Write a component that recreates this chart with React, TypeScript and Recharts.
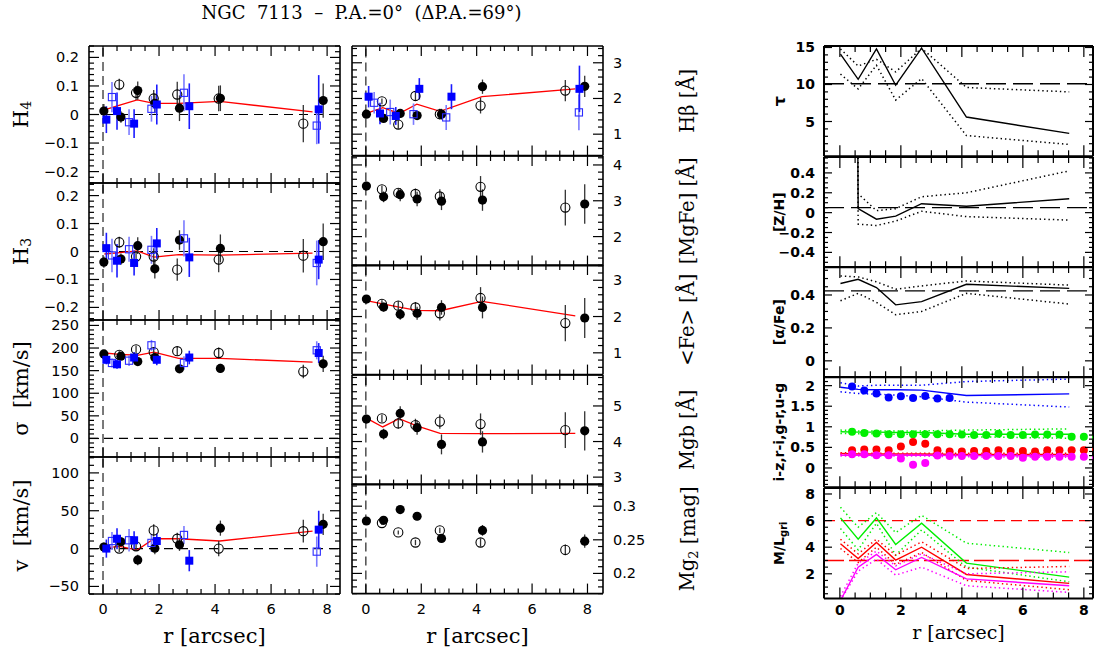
import React from 'react';
import { ComposedChart, XAxis, YAxis, Line, Scatter, ErrorBar, ReferenceLine } from 'recharts';

const SANS = '"DejaVu Sans", Verdana, sans-serif';
const SERIF = '"DejaVu Serif", serif';

// ---------------- shared tick positions ----------------
const X_TICKS = [0, 0.5, 1, 1.5, 2, 2.5, 3, 3.5, 4, 4.5, 5, 5.5, 6, 6.5, 7, 7.5, 8];

// ---------------- LEFT COLUMN: kinematics ----------------
const lFilledX = [0.03, 0.64, 1.24, 1.85, 2.73, 4.19, 7.86];
const lOpenX = [0.58, 1.18, 1.81, 2.65, 4.13, 7.15];
const lBlueFX = [0.12, 0.5, 1.11, 1.92, 3.08, 7.7];
const lBlueOX = [0.32, 0.93, 1.73, 2.89, 7.63];
const lModelX = [0.05, 0.6, 1.22, 1.82, 2.7, 4.17, 7.48];

const h4Filled = [0.012, -0.009, 0.084, 0.039, 0.022, 0.057, 0.049];
const h4FilledErr = [0.025, 0.02, 0.032, 0.035, 0.045, 0.045, 0.06];
const h4Open = [0.105, 0.076, 0.056, 0.07, 0.056, -0.032];
const h4OpenErr = [0.02, 0.025, 0.03, 0.045, 0.045, 0.065];
const h4BlueF = [-0.018, 0.012, -0.032, 0.035, 0.029, 0.018];
const h4BlueFErr = [0.047, 0.065, 0.05, 0.07, 0.08, 0.12];
const h4BlueO = [0.061, -0.027, 0.02, 0.076, -0.039];
const h4BlueOErr = [0.053, 0.045, 0.045, 0.065, 0.065];
const h4Model = [0.016, 0.033, 0.051, 0.039, 0.039, 0.046, 0.009];

const h3Filled = [-0.038, -0.027, 0.021, -0.062, 0.041, 0.011, 0.035];
const h3FilledErr = [0.02, 0.02, 0.03, 0.035, 0.035, 0.05, 0.065];
const h3Open = [0.033, -0.018, -0.018, -0.065, -0.029, -0.015];
const h3OpenErr = [0.02, 0.02, 0.03, 0.04, 0.045, 0.06];
const h3BlueF = [0.012, -0.033, -0.041, 0.029, -0.021, -0.029];
const h3BlueFErr = [0.055, 0.06, 0.045, 0.055, 0.07, 0.07];
const h3BlueO = [-0.014, 0.008, 0.006, 0.047, -0.041];
const h3BlueOErr = [0.06, 0.045, 0.05, 0.065, 0.08];
const h3Model = [-0.009, -0.004, 0.002, -0.02, -0.011, -0.013, -0.006];

const sigFilled = [187, 182, 170, 179, 154, 155, 165];
const sigFilledErr = [8, 8, 8, 10, 8, 10, 18];
const sigOpen = [185, 197, 191, 193, 189, 148];
const sigOpenErr = [8, 8, 10, 10, 12, 15];
const sigBlueF = [174, 164, 179, 174, 179, 189];
const sigBlueFErr = [10, 10, 12, 12, 15, 22];
const sigBlueO = [167, 172, 206, 167, 195];
const sigBlueOErr = [10, 12, 12, 15, 20];
const sigModel = [189, 186, 184, 191, 177, 177, 169];

const velFilled = [2, 9, -15, 0.5, 5, 27, 32];
const velFilledErr = [6, 6, 7, 8, 8, 10, 14];
const velOpen = [0, 3, 24, 13, 0, 23];
const velOpenErr = [5, 6, 8, 8, 10, 15];
const velBlueF = [0, 13, 11, 10, -16, 25];
const velBlueFErr = [12, 14, 12, 10, 14, 25];
const velBlueO = [10, 11, 7.5, 18, -4];
const velBlueOErr = [12, 15, 12, 12, 20];
const velModel = [1, 3, -2, 13, 13, 10, 23];

// ---------------- MIDDLE COLUMN: indices ----------------
const mFilledX = [0.02, 0.64, 1.24, 1.85, 2.73, 4.21, 7.9];
const mOpenX = [0.58, 1.17, 1.79, 2.67, 4.14, 7.2];
const mBlueFX = [0.1, 0.51, 1.08, 1.93, 3.09, 7.71];
const mBlueOX = [0.3, 0.88, 1.72, 2.9, 7.69];
const mModelX = [0.02, 0.61, 1.2, 1.84, 2.68, 4.19, 7.56];

const hbFilled = [1.56, 1.44, 1.58, 1.52, 1.56, 2.33, 2.34];
const hbFilledErr = [0.1, 0.1, 0.12, 0.12, 0.15, 0.2, 0.3];
const hbOpen = [1.92, 1.27, 2.07, 1.56, 1.8, 2.22];
const hbOpenErr = [0.08, 0.12, 0.12, 0.15, 0.22, 0.3];
const hbBlueF = [2.05, 1.58, 1.51, 2.27, 2.05, 2.27];
const hbBlueFErr = [0.3, 0.3, 0.25, 0.3, 0.35, 0.65];
const hbBlueO = [1.88, 1.62, 1.56, 1.47, 1.61];
const hbBlueOErr = [0.3, 0.35, 0.3, 0.35, 0.5];
const hbModel = [1.58, 1.74, 1.58, 1.84, 1.64, 2.05, 2.27];

const mgfeFilled = [3.41, 3.11, 3.17, 3.05, 2.99, 3.02, 2.91];
const mgfeFilledErr = [0.1, 0.15, 0.18, 0.2, 0.25, 0.3, 0.55];
const mgfeOpen = [3.32, 3.22, 3.19, 3.12, 3.39, 2.81];
const mgfeOpenErr = [0.1, 0.12, 0.15, 0.2, 0.3, 0.5];

const feFilled = [2.48, 2.26, 2.06, 2.09, 2.25, 2.25, 1.96];
const feFilledErr = [0.08, 0.12, 0.15, 0.18, 0.2, 0.3, 0.55];
const feOpen = [2.35, 2.3, 2.25, 2.09, 2.51, 1.82];
const feOpenErr = [0.1, 0.12, 0.15, 0.2, 0.3, 0.5];
const feModel = [2.44, 2.35, 2.26, 2.17, 2.16, 2.42, 2.02];

const mgbFilled = [4.63, 4.21, 4.79, 4.39, 3.92, 3.99, 4.3];
const mgbFilledErr = [0.1, 0.15, 0.2, 0.2, 0.28, 0.3, 0.55];
const mgbOpen = [4.65, 4.51, 4.46, 4.56, 4.49, 4.32];
const mgbOpenErr = [0.1, 0.15, 0.18, 0.2, 0.3, 0.5];
const mgbModel = [4.66, 4.41, 4.64, 4.44, 4.23, 4.22, 4.23];

const mg2Filled = [0.278, 0.279, 0.295, 0.285, 0.252, 0.264, 0.248];
const mg2FilledErr = [0.003, 0.004, 0.005, 0.006, 0.006, 0.008, 0.01];
const mg2Open = [0.275, 0.261, 0.246, 0.264, 0.246, 0.235];
const mg2OpenErr = [0.003, 0.003, 0.004, 0.004, 0.006, 0.008];

// ---------------- RIGHT COLUMN: stellar populations ----------------
const rModelX = [0.02, 0.6, 1.2, 1.83, 2.68, 4.15, 7.52];

const tauBest = [14.1, 10.7, 14.8, 9.9, 14.9, 5.6, 3.4];
const tauHigh = [14.8, 12.5, 13.4, 11.7, 14.9, 9.6, 9.0];
const tauLow = [11.4, 9.4, 12.6, 7.9, 10.8, 3.1, 1.9];
const tauRef = 10.1;

const zhBest = [30, 0.04, -0.066, -0.035, 0.09, 0.065, 0.14];
const zhHigh = [30, 0.19, 0.02, 0.04, 0.16, 0.2, 0.42];
const zhLow = [30, -0.115, -0.13, -0.085, 0.014, -0.04, -0.075];
const zhRef = 0.05;

const afeBest = [0.47, 0.495, 0.445, 0.34, 0.36, 0.465, 0.44];
const afeHigh = [0.515, 0.51, 0.48, 0.435, 0.455, 0.485, 0.46];
const afeLow = [0.365, 0.41, 0.355, 0.28, 0.3, 0.41, 0.345];
const afeRef = 0.425;

const colObsX = [0.4, 0.8, 1.2, 1.6, 2.0, 2.4, 2.8, 3.2, 3.6, 4.0, 4.4, 4.8, 5.2, 5.6, 6.0, 6.4, 6.8, 7.2, 7.6, 8.0, 8.4];
const ugObs = [1.98, 1.88, 1.81, 1.71, 1.74, 1.7, 1.75, 1.69, 1.7];
const grObs = [0.88, 0.85, 0.84, 0.82, 0.82, 0.82, 0.82, 0.82, 0.82, 0.81, 0.8, 0.8, 0.83, 0.8, 0.8, 0.81, 0.81, 0.81, 0.76, 0.76, 0.74];
const riObs = [0.43, 0.45, 0.45, 0.43, 0.52, 0.63, 0.59, 0.43, 0.4, 0.4, 0.41, 0.41, 0.43, 0.41, 0.41, 0.4, 0.43, 0.43, 0.43, 0.43, 0.45];
const izObs = [0.33, 0.33, 0.31, 0.31, 0.23, 0.08, 0.12, 0.3, 0.29, 0.29, 0.29, 0.29, 0.29, 0.29, 0.25, 0.27, 0.27, 0.27, 0.27, 0.27, 0.25];
const ugModel = [1.96, 1.91, 1.9, 1.9, 1.89, 1.76, 1.8];
const ugHigh = [2.07, 1.99, 2.01, 2.01, 2.01, 2.1, 2.16];
const ugLow = [1.85, 1.81, 1.79, 1.77, 1.73, 1.6, 1.48];
const grModel = [0.88, 0.87, 0.87, 0.86, 0.86, 0.82, 0.82];
const grHigh = [0.92, 0.9, 0.9, 0.9, 0.9, 0.92, 0.95];
const grLow = [0.84, 0.83, 0.83, 0.82, 0.82, 0.76, 0.72];
const riModel = [0.35, 0.34, 0.34, 0.34, 0.34, 0.33, 0.33];
const riHigh = [0.37, 0.36, 0.36, 0.36, 0.36, 0.36, 0.36];
const riLow = [0.33, 0.32, 0.32, 0.32, 0.32, 0.31, 0.3];
const izModel = [0.31, 0.31, 0.31, 0.31, 0.31, 0.3, 0.29];
const izHigh = [0.33, 0.33, 0.33, 0.33, 0.33, 0.32, 0.32];
const izLow = [0.29, 0.29, 0.29, 0.29, 0.29, 0.27, 0.26];

const mlG = [6.2, 4.6, 6.2, 4.2, 5.8, 2.8, 1.75];
const mlGHigh = [7.0, 5.5, 6.6, 5.1, 6.4, 4.3, 3.6];
const mlGLow = [5.4, 3.8, 5.8, 3.4, 5.3, 2.5, 1.4];
const mlR = [4.26, 3.15, 4.36, 3.03, 4.0, 1.95, 1.28];
const mlRHigh = [4.6, 3.5, 4.6, 3.4, 4.4, 2.4, 2.55];
const mlRLow = [3.9, 2.85, 4.0, 2.7, 3.6, 1.5, 0.8];
const mlI = [0.0, 2.5, 3.46, 2.3, 3.23, 1.62, 1.1];
const mlIHigh = [0.3, 2.8, 3.7, 2.6, 3.5, 2.0, 2.15];
const mlILow = [0.0, 2.2, 3.1, 1.9, 2.5, 1.1, 0.6];
const mlRef1 = 6.0;
const mlRef2 = 3.0;

// ---------------- helpers ----------------
type Pt = { x: number; y: number; e: number };
const zip = (xs: number[], ys: number[], es?: number[]): Pt[] =>
  ys.map((y, i) => ({ x: xs[i], y, e: es ? es[i] : 0 }));

const range = (a: number, b: number, s: number) => {
  const out: number[] = [];
  const n = Math.round((b - a) / s);
  for (let i = 0; i <= n; i++) out.push(+(a + i * s).toFixed(6));
  return out;
};
const isMult = (v: number, step: number) => Math.abs(v / step - Math.round(v / step)) < 1e-6;
const fmtNum = (v: number) => {
  if (Math.abs(v) < 1e-9) return '0';
  const s = String(+v.toFixed(4));
  return s.startsWith('-') ? '\u2212' + s.slice(1) : s;
};

type Side = 'top' | 'bottom' | 'left' | 'right';
const mkTick = (
  side: Side,
  major: number,
  lens: [number, number],
  showLabel: boolean,
  font: React.CSSProperties,
  gap: number,
  sw: number
) => (p: any) => {
  const v = Number(p.payload && p.payload.value);
  const maj = isMult(v, major);
  const L = maj ? lens[0] : lens[1];
  const x = p.x;
  const y = p.y;
  let x2 = x;
  let y2 = y;
  let tx = x;
  let ty = y;
  let anchor: 'start' | 'middle' | 'end' = 'middle';
  if (side === 'bottom') { y2 = y - L; ty = y + gap; }
  if (side === 'top') { y2 = y + L; }
  if (side === 'left') { x2 = x + L; tx = x - gap; anchor = 'end'; }
  if (side === 'right') { x2 = x - L; tx = x + gap; anchor = 'start'; }
  return (
    <g>
      <line x1={x} y1={y} x2={x2} y2={y2} stroke="#000" strokeWidth={sw} />
      {showLabel && maj ? (
        <text x={tx} y={ty} textAnchor={anchor} dominantBaseline="central" style={font} fill="#000">
          {fmtNum(v)}
        </text>
      ) : null}
    </g>
  );
};

const AX = { xAxisId: 'b', yAxisId: 'l' } as const;

const lineEl = (key: string, data: Pt[], color: string, width = 1.3, dash?: string) => (
  <Line key={key} {...AX} data={data} dataKey="y" type="linear" stroke={color} strokeWidth={width}
    strokeDasharray={dash} dot={false} activeDot={false} isAnimationActive={false} />
);
const DOT = '1.4 3';

const dotFilled = (p: any) => <circle cx={p.cx} cy={p.cy} r={4.6} fill="#000" />;
const dotOpen = (p: any) => <circle cx={p.cx} cy={p.cy} r={4.6} fill="none" stroke="#000" strokeWidth={1.1} />;
const sqFilled = (p: any) => <rect x={p.cx - 4} y={p.cy - 4} width={8} height={8} fill="#0000ff" />;
const sqOpen = (p: any) => <rect x={p.cx - 3.6} y={p.cy - 3.6} width={7.2} height={7.2} fill="none" stroke="#2a2aff" strokeWidth={1.1} />;
const colorDot = (c: string) => (p: any) => <circle cx={p.cx} cy={p.cy} r={4} fill={c} />;

const scatEl = (key: string, data: Pt[], shape: any, bar?: string, barW = 1.3) => (
  <Scatter key={key} {...AX} data={data} dataKey="y" shape={shape} isAnimationActive={false}>
    {bar ? <ErrorBar dataKey="e" direction="y" width={0} stroke={bar} strokeWidth={barW} /> : null}
  </Scatter>
);
const hRef = (key: string, y: number, color = '#000', dash = '9 6', w = 1.2) => (
  <ReferenceLine key={key} {...AX} y={y} stroke={color} strokeDasharray={dash} strokeWidth={w} />
);
const vRef = (key: string, x: number) => (
  <ReferenceLine key={key} {...AX} x={x} stroke="#222" strokeDasharray="9 5" strokeWidth={1.2} />
);

// ---------------- panel ----------------
type PanelProps = {
  px: number; py: number; pw: number; ph: number;
  lw: number; rw: number; mt: number; bh: number; mb: number;
  xDomain: [number, number]; yDomain: [number, number];
  yTicks: number[]; yMajor: number;
  xLabels: boolean; yLabelSide: 'left' | 'right';
  bold: boolean;
  xLen: [number, number]; yLen: [number, number];
  frameW: number;
  yTitle: React.ReactNode; yTitleX: number; yTitleStyle: React.CSSProperties;
  xTitle?: string; xTitleY?: number; xTitleSize?: number; xLabelGap?: number;
  children: React.ReactNode;
};

function Panel(P: PanelProps) {
  const W = P.lw + P.pw + P.rw;
  const H = P.mt + P.ph + P.bh + P.mb;
  const tickFont: React.CSSProperties = P.bold
    ? { fontFamily: SANS, fontWeight: 700, fontSize: 14 }
    : { fontFamily: SANS, fontSize: 14.5 };
  const axisLine = { stroke: '#000', strokeWidth: P.frameW };
  const left = P.px - P.lw;
  const top = P.py - P.mt;
  const tcx = P.yTitleX - left;
  const tcy = P.mt + P.ph / 2;
  const sw = 1.2;
  // axes need a non-zero thickness to be drawn at all
  return (
    <div style={{ position: 'absolute', left, top }}>
      <ComposedChart width={W} height={H} margin={{ top: P.mt - 1, right: 0, bottom: P.mb, left: 0 }}>
        <XAxis xAxisId="b" type="number" dataKey="x" orientation="bottom" domain={P.xDomain} allowDataOverflow
          ticks={X_TICKS} interval={0} tickSize={0} tickMargin={0} tickLine={false} axisLine={axisLine} height={P.bh}
          tick={mkTick('bottom', 2, P.xLen, P.xLabels, tickFont, P.xLabelGap ?? 15, sw)}
          label={P.xTitle ? () => (
            <text x={P.lw + P.pw / 2} y={(P.xTitleY ?? 0) - top} textAnchor="middle" dominantBaseline="central"
              style={{ fontFamily: SERIF, fontSize: P.xTitleSize ?? 21, whiteSpace: 'pre' }} fill="#000">{P.xTitle}</text>
          ) : undefined} />
        <XAxis xAxisId="t" type="number" dataKey="x" orientation="top" domain={P.xDomain} allowDataOverflow
          ticks={X_TICKS} interval={0} tickSize={0} tickMargin={0} tickLine={false} axisLine={axisLine} height={1}
          tick={mkTick('top', 2, P.xLen, false, tickFont, 0, sw)} />
        <YAxis yAxisId="l" type="number" orientation="left" domain={P.yDomain} allowDataOverflow width={P.lw}
          ticks={P.yTicks} interval={0} tickSize={0} tickMargin={0} tickLine={false} axisLine={axisLine}
          tick={mkTick('left', P.yMajor, P.yLen, P.yLabelSide === 'left', tickFont, P.bold ? 9 : 10, sw)}
          label={() => (
            <text x={tcx} y={tcy} transform={`rotate(-90 ${tcx} ${tcy})`} textAnchor="middle" dominantBaseline="central"
              style={{ whiteSpace: 'pre', ...P.yTitleStyle }} fill="#000">{P.yTitle}</text>
          )} />
        <YAxis yAxisId="r" type="number" orientation="right" domain={P.yDomain} allowDataOverflow width={P.rw}
          ticks={P.yTicks} interval={0} tickSize={0} tickMargin={0} tickLine={false} axisLine={axisLine}
          tick={mkTick('right', P.yMajor, P.yLen, P.yLabelSide === 'right', tickFont, 10, sw)} />
        {P.children}
      </ComposedChart>
    </div>
  );
}

// ---------------- column geometry ----------------
const LC = { x0: 89, x1: 340, lw: 89, rw: 6, ys: [46, 183, 320, 457, 594], xDomain: [-0.5, 8.46] as [number, number], tx: 21 };
const MC = { x0: 352, x1: 603, lw: 6, rw: 100, ys: [46, 155.6, 265.2, 374.8, 484.4, 594], xDomain: [-0.5, 8.56] as [number, number], tx: 688 };
const RC = { x0: 824, x1: 1093, lw: 84, rw: 1, ys: [46.4, 156.7, 267, 377.3, 487.6, 598], xDomain: [-0.52, 8.3] as [number, number], tx: 779 };

const serifTitle: React.CSSProperties = { fontFamily: SERIF, fontSize: 21 };
const midTitle: React.CSSProperties = { fontFamily: SERIF, fontSize: 19.5 };
const boldTitle: React.CSSProperties = { fontFamily: SANS, fontWeight: 700, fontSize: 14 };

const sub = (t: string, size: number) => <tspan dy={5} fontSize={size}>{t}</tspan>;

function kinSeries(prefix: string, lx: { f: number[]; o: number[]; bf: number[]; bo: number[]; m: number[] },
  f: number[], fe: number[], o: number[], oe: number[], bf?: number[], bfe?: number[], bo?: number[], boe?: number[], model?: number[]) {
  const out: React.ReactNode[] = [];
  if (model) out.push(lineEl(prefix + 'm', zip(lx.m, model), '#ff0000', 1.3));
  out.push(scatEl(prefix + 'o', zip(lx.o, o, oe), dotOpen, '#333'));
  out.push(scatEl(prefix + 'f', zip(lx.f, f, fe), dotFilled, '#333'));
  if (bo && boe) out.push(scatEl(prefix + 'bo', zip(lx.bo, bo, boe), sqOpen, '#7b7bff', 1.6));
  if (bf && bfe) out.push(scatEl(prefix + 'bf', zip(lx.bf, bf, bfe), sqFilled, '#1a1aff', 1.6));
  return out;
}

const LX = { f: lFilledX, o: lOpenX, bf: lBlueFX, bo: lBlueOX, m: lModelX };
const MX = { f: mFilledX, o: mOpenX, bf: mBlueFX, bo: mBlueOX, m: mModelX };

function colPanel(col: typeof LC, i: number, last: boolean, kind: 'left' | 'mid' | 'right') {
  const bold = kind === 'right';
  return {
    px: col.x0, py: col.ys[i], pw: col.x1 - col.x0, ph: col.ys[i + 1] - col.ys[i],
    lw: col.lw, rw: col.rw, mt: 12, bh: last ? 56 : 1, mb: last ? 0 : 11,
    xDomain: col.xDomain, xLabels: last,
    yLabelSide: (kind === 'mid' ? 'right' : 'left') as 'left' | 'right',
    bold,
    xLen: (bold ? [11, 6] : [10, 5]) as [number, number],
    yLen: (bold ? [8, 4] : [10, 5]) as [number, number],
    frameW: bold ? 2 : 1.6,
    yTitleX: col.tx,
    yTitleStyle: bold ? boldTitle : kind === 'mid' ? midTitle : serifTitle,
    xTitle: last ? 'r [arcsec]' : undefined,
    xTitleY: bold ? 632 : 636,
    xTitleSize: bold ? 19 : 21,
    xLabelGap: bold ? 12 : 15,
  };
}

export default function App() {
  return (
    <div style={{ position: 'absolute', left: 0, top: 0, width: 1094, height: 650, background: '#fff', overflow: 'hidden' }}>
      <div style={{ position: 'absolute', left: 0, top: 3, width: 723, textAlign: 'center', fontFamily: SERIF, fontSize: 18, whiteSpace: 'pre', lineHeight: '20px' }}>
        {'NGC  7113  \u2013  P.A.=0\u00b0  (\u0394P.A.=69\u00b0)'}
      </div>

      {/* LEFT COLUMN */}
      <Panel {...colPanel(LC, 0, false, 'left')} yDomain={[-0.24, 0.24]} yTicks={range(-0.24, 0.24, 0.02)} yMajor={0.1}
        yTitle={<>H{sub('4', 14)}</>}>
        {[vRef('v0', 0), hRef('h0', 0), ...kinSeries('h4', LX, h4Filled, h4FilledErr, h4Open, h4OpenErr, h4BlueF, h4BlueFErr, h4BlueO, h4BlueOErr, h4Model)]}
      </Panel>
      <Panel {...colPanel(LC, 1, false, 'left')} yDomain={[-0.245, 0.245]} yTicks={range(-0.24, 0.24, 0.02)} yMajor={0.1}
        yTitle={<>H{sub('3', 14)}</>}>
        {[vRef('v0', 0), hRef('h0', 0), ...kinSeries('h3', LX, h3Filled, h3FilledErr, h3Open, h3OpenErr, h3BlueF, h3BlueFErr, h3BlueO, h3BlueOErr, h3Model)]}
      </Panel>
      <Panel {...colPanel(LC, 2, false, 'left')} yDomain={[-41, 262]} yTicks={range(-40, 260, 10)} yMajor={50}
        yTitle={'\u03c3  [km/s]'}>
        {[vRef('v0', 0), hRef('h0', 0), ...kinSeries('sg', LX, sigFilled, sigFilledErr, sigOpen, sigOpenErr, sigBlueF, sigBlueFErr, sigBlueO, sigBlueOErr, sigModel)]}
      </Panel>
      <Panel {...colPanel(LC, 3, true, 'left')} yDomain={[-60, 121]} yTicks={range(-60, 120, 10)} yMajor={50}
        yTitle={'v  [km/s]'}>
        {[vRef('v0', 0), hRef('h0', 0), ...kinSeries('vl', LX, velFilled, velFilledErr, velOpen, velOpenErr, velBlueF, velBlueFErr, velBlueO, velBlueOErr, velModel)]}
      </Panel>

      {/* MIDDLE COLUMN */}
      <Panel {...colPanel(MC, 0, false, 'mid')} yDomain={[0.4, 3.47]} yTicks={range(0.4, 3.4, 0.2)} yMajor={1}
        yTitle={'H\u03b2 [\u00c5]'}>
        {[vRef('v0', 0), ...kinSeries('hb', MX, hbFilled, hbFilledErr, hbOpen, hbOpenErr, hbBlueF, hbBlueFErr, hbBlueO, hbBlueOErr, hbModel)]}
      </Panel>
      <Panel {...colPanel(MC, 1, false, 'mid')} yDomain={[1.19, 4.25]} yTicks={range(1.2, 4.2, 0.2)} yMajor={1}
        yTitle={'[MgFe] [\u00c5]'}>
        {[vRef('v0', 0), ...kinSeries('mf', MX, mgfeFilled, mgfeFilledErr, mgfeOpen, mgfeOpenErr)]}
      </Panel>
      <Panel {...colPanel(MC, 2, false, 'mid')} yDomain={[0.4, 3.42]} yTicks={range(0.4, 3.4, 0.2)} yMajor={1}
        yTitle={'<Fe> [\u00c5]'}>
        {[vRef('v0', 0), ...kinSeries('fe', MX, feFilled, feFilledErr, feOpen, feOpenErr, undefined, undefined, undefined, undefined, feModel)]}
      </Panel>
      <Panel {...colPanel(MC, 3, false, 'mid')} yDomain={[2.79, 5.87]} yTicks={range(2.8, 5.8, 0.2)} yMajor={1}
        yTitle={'Mgb [\u00c5]'}>
        {[vRef('v0', 0), ...kinSeries('mb', MX, mgbFilled, mgbFilledErr, mgbOpen, mgbOpenErr, undefined, undefined, undefined, undefined, mgbModel)]}
      </Panel>
      <Panel {...colPanel(MC, 4, true, 'mid')} yDomain={[0.17, 0.333]} yTicks={range(0.17, 0.33, 0.01)} yMajor={0.05}
        yTitle={<>Mg{sub('2', 13)}<tspan dy={-5}>{' [mag]'}</tspan></>}>
        {[vRef('v0', 0), ...kinSeries('m2', MX, mg2Filled, mg2FilledErr, mg2Open, mg2OpenErr)]}
      </Panel>

      {/* RIGHT COLUMN */}
      <Panel {...colPanel(RC, 0, false, 'right')} yDomain={[0.3, 15.2]} yTicks={range(1, 15, 1)} yMajor={5}
        yTitle={<tspan fontSize={16}>{'\u03c4'}</tspan>}>
        {[
          hRef('r', tauRef, '#000', '20 7', 1.3),
          lineEl('hi', zip(rModelX, tauHigh), '#000', 1.5, DOT),
          lineEl('lo', zip(rModelX, tauLow), '#000', 1.5, DOT),
          lineEl('b', zip(rModelX, tauBest), '#000', 1.4),
        ]}
      </Panel>
      <Panel {...colPanel(RC, 1, false, 'right')} yDomain={[-0.55, 0.56]} yTicks={range(-0.55, 0.55, 0.05)} yMajor={0.2}
        yTitle={'[Z/H]'}>
        {[
          hRef('r', zhRef, '#000', '20 7', 1.3),
          lineEl('hi', zip(rModelX, zhHigh), '#000', 1.5, DOT),
          lineEl('lo', zip(rModelX, zhLow), '#000', 1.5, DOT),
          lineEl('b', zip(rModelX, zhBest), '#000', 1.4),
        ]}
      </Panel>
      <Panel {...colPanel(RC, 2, false, 'right')} yDomain={[-0.1, 0.57]} yTicks={range(-0.1, 0.55, 0.05)} yMajor={0.2}
        yTitle={'[\u03b1/Fe]'}>
        {[
          hRef('r', afeRef, '#000', '20 7', 1.3),
          lineEl('hi', zip(rModelX, afeHigh), '#000', 1.5, DOT),
          lineEl('lo', zip(rModelX, afeLow), '#000', 1.5, DOT),
          lineEl('b', zip(rModelX, afeBest), '#000', 1.4),
        ]}
      </Panel>
      <Panel {...colPanel(RC, 3, false, 'right')} yDomain={[-0.47, 2.21]} yTicks={range(-0.4, 2.2, 0.1)} yMajor={0.5}
        yTitle={'i-z,r-i,g-r,u-g'}>
        {[
          lineEl('ugh', zip(rModelX, ugHigh), '#0000ff', 1.5, DOT),
          lineEl('ugl', zip(rModelX, ugLow), '#0000ff', 1.5, DOT),
          lineEl('ugm', zip(rModelX, ugModel), '#0000ff', 1.4),
          lineEl('grh', zip(rModelX, grHigh), '#00ee00', 1.5, DOT),
          lineEl('grl', zip(rModelX, grLow), '#00ee00', 1.5, DOT),
          lineEl('grm', zip(rModelX, grModel), '#00ee00', 1.4),
          lineEl('rih', zip(rModelX, riHigh), '#ff0000', 1.5, DOT),
          lineEl('ril', zip(rModelX, riLow), '#ff0000', 1.5, DOT),
          lineEl('rim', zip(rModelX, riModel), '#ff0000', 1.4),
          lineEl('izh', zip(rModelX, izHigh), '#ff00ff', 1.5, DOT),
          lineEl('izl', zip(rModelX, izLow), '#ff00ff', 1.5, DOT),
          lineEl('izm', zip(rModelX, izModel), '#ff00ff', 1.4),
          scatEl('ugo', zip(colObsX, ugObs), colorDot('#0000ff')),
          scatEl('gro', zip(colObsX, grObs), colorDot('#00ee00')),
          scatEl('rio', zip(colObsX, riObs), colorDot('#ff0000')),
          scatEl('izo', zip(colObsX, izObs), colorDot('#ff00ff')),
        ]}
      </Panel>
      <Panel {...colPanel(RC, 4, true, 'right')} yDomain={[0.15, 8.45]} yTicks={range(0.5, 8, 0.5)} yMajor={2}
        yTitle={<>M/L<tspan dy={4} fontSize={10}>gri</tspan></>}>
        {[
          hRef('r1', mlRef1, '#ff0000', '11 6', 1.4),
          hRef('r2', mlRef2, '#ff0000', '20 5', 1.5),
          lineEl('gh', zip(rModelX, mlGHigh), '#00ee00', 1.5, DOT),
          lineEl('gl', zip(rModelX, mlGLow), '#00ee00', 1.5, DOT),
          lineEl('gm', zip(rModelX, mlG), '#00ee00', 1.4),
          lineEl('rh', zip(rModelX, mlRHigh), '#ff0000', 1.5, DOT),
          lineEl('rl', zip(rModelX, mlRLow), '#ff0000', 1.5, DOT),
          lineEl('rm', zip(rModelX, mlR), '#ff0000', 1.4),
          lineEl('ih', zip(rModelX, mlIHigh), '#ff00ff', 1.5, DOT),
          lineEl('il', zip(rModelX, mlILow), '#ff00ff', 1.5, DOT),
          lineEl('im', zip(rModelX, mlI), '#ff00ff', 1.4),
        ]}
      </Panel>
    </div>
  );
}
